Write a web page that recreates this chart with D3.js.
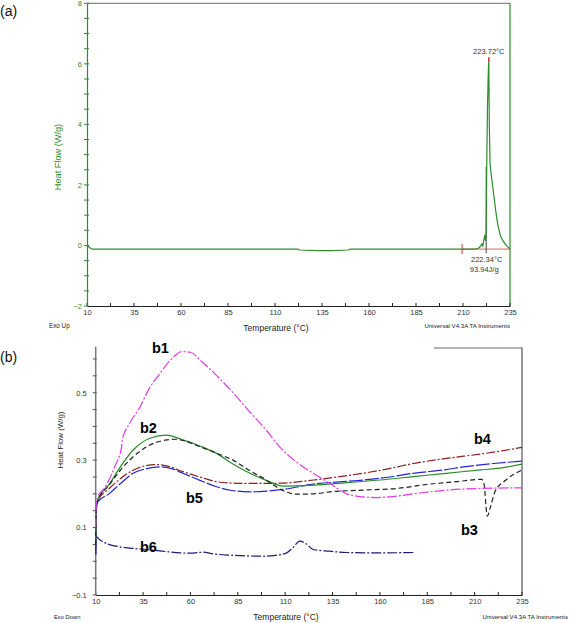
<!DOCTYPE html>
<html><head><meta charset="utf-8">
<script src="https://cdn.jsdelivr.net/npm/d3@7"></script>
<style>body{margin:0;background:#fff}svg{display:block;font-family:"Liberation Sans",Arial,sans-serif}</style>
</head><body>
<svg id="c" width="569" height="623"></svg>
<script>
// ---------- Panel (a) data ----------
const aTemp = [10, 11, 12, 13, 122, 123, 133, 140, 149, 150, 209, 216, 218, 219, 220, 220.5, 221, 221.6, 222.0, 222.34, 222.6, 223.0, 223.4, 223.72, 224.0, 224.4, 225.1, 226, 226.9, 227.8, 228.7, 230, 231.3, 233, 235];
const aFlow = [0, -0.05, -0.1, -0.12, -0.12, -0.15, -0.17, -0.17, -0.15, -0.12, -0.12, -0.12, -0.1, -0.05, 0.05, -0.02, 0.15, 0.35, 0.15, 0.5, 2.5, 4.5, 5.6, 6.15, 4.0, 2.7, 2.28, 1.85, 1.4, 0.96, 0.63, 0.3, 0.15, 0.0, -0.12];
const aXTicks = [10, 35, 60, 85, 110, 135, 160, 185, 210, 235];
const aYTicks = [-2, 0, 2, 4, 6, 8];
const aPeakTemp = 223.72, aPeakFlow = 6.15;
const aOnsetTemp = 222.34, aEnthalpy = "93.94J/g";
const aBaseStart = 209.5, aBaseEnd = 235, aBaseFlow = -0.12;

// ---------- Panel (b) data ----------
const bXTicks = [10, 35, 60, 85, 110, 135, 160, 185, 210, 235];
const bYTicks = [-0.1, 0.1, 0.3, 0.5];
const b1Temp = [10, 10.3, 11, 15, 20, 23.7, 24, 28, 33.4, 38, 43.9, 50, 55.4, 60, 65, 74, 82.5, 91, 100, 107, 117, 124.8, 133.6, 142.5, 151, 158, 165, 177.6, 195, 212.8, 235];
const b1Flow = [0.1, 0.17, 0.19, 0.22, 0.28, 0.34, 0.36, 0.41, 0.458, 0.51, 0.557, 0.6, 0.622, 0.62, 0.597, 0.55, 0.5, 0.445, 0.389, 0.34, 0.29, 0.261, 0.231, 0.2, 0.191, 0.189, 0.191, 0.2, 0.211, 0.216, 0.218];
const b2Temp = [10, 10.3, 11, 17.5, 23, 29.8, 38.6, 47.4, 56, 65, 73.8, 82, 91.4, 100, 109, 125, 140, 160, 177.6, 195, 213, 225, 235];
const b2Flow = [0.05, 0.15, 0.18, 0.231, 0.28, 0.33, 0.365, 0.374, 0.36, 0.342, 0.32, 0.29, 0.261, 0.24, 0.223, 0.226, 0.232, 0.241, 0.251, 0.261, 0.271, 0.278, 0.288];
const b3Temp = [10, 10.3, 11, 17, 23, 29.8, 38, 47.4, 52, 58, 65, 74, 82.5, 91, 100, 107, 116, 125, 133.6, 151, 168.8, 186.4, 200, 213.7, 214.9, 216.7, 218.4, 220.7, 226.5, 235];
const b3Flow = [0.05, 0.15, 0.18, 0.225, 0.27, 0.31, 0.343, 0.36, 0.362, 0.355, 0.34, 0.32, 0.30, 0.27, 0.241, 0.215, 0.199, 0.2, 0.206, 0.211, 0.216, 0.229, 0.236, 0.243, 0.231, 0.134, 0.162, 0.206, 0.241, 0.271];
const b4Temp = [10, 10.3, 11, 17, 23, 29.8, 36, 42, 48, 56, 65, 73.8, 82, 91.4, 100, 109, 125, 140, 151, 165, 177.6, 195, 213, 225, 235];
const b4Flow = [0.05, 0.15, 0.18, 0.215, 0.245, 0.27, 0.283, 0.287, 0.282, 0.266, 0.25, 0.236, 0.232, 0.231, 0.231, 0.232, 0.241, 0.252, 0.261, 0.275, 0.29, 0.305, 0.318, 0.328, 0.338];
const b5Temp = [10, 10.3, 11, 17, 23, 29.8, 37, 44, 50, 56, 65, 73.8, 82, 91.4, 100, 109, 125, 140, 151, 165, 177.6, 195, 204, 220, 235];
const b5Flow = [0.02, 0.15, 0.175, 0.2, 0.23, 0.261, 0.275, 0.28, 0.275, 0.261, 0.24, 0.221, 0.21, 0.206, 0.208, 0.213, 0.229, 0.236, 0.241, 0.25, 0.261, 0.272, 0.28, 0.29, 0.297];
const b6Temp = [10, 10.2, 12.3, 16, 22.8, 30, 36.9, 45, 54.5, 60, 66.8, 72, 80.9, 90, 98.4, 104, 110.8, 114, 117.8, 121, 124.8, 133, 142.4, 160, 177.6];
const b6Flow = [0.02, 0.073, 0.063, 0.052, 0.043, 0.038, 0.035, 0.03, 0.025, 0.024, 0.027, 0.022, 0.018, 0.016, 0.015, 0.017, 0.025, 0.04, 0.06, 0.052, 0.035, 0.03, 0.026, 0.025, 0.026];
const bNames = ["b1", "b2", "b3", "b4", "b5", "b6"];

const svg = d3.select("#c");
const FONT = '"Liberation Sans",Arial,sans-serif';

function minorTicks(scale, step) {
  const [a, b] = scale.domain().slice().sort((p, q) => p - q);
  const out = [];
  for (let v = a; v <= b + 1e-9; v += step) out.push(+v.toFixed(4));
  return out;
}

// ================= Panel (a) =================
const ax = d3.scaleLinear().domain([10, 235]).range([87, 510]);
const ay = d3.scaleLinear().domain([-2, 8]).range([306, 3.3]);
const ga = svg.append("g");
const green = "#2e8b2e";

// frame
ga.append("line").attr("x1", ax(10)).attr("x2", ax(235)).attr("y1", ay(8)).attr("y2", ay(8)).attr("stroke", "#888").attr("stroke-width", 1.2);
ga.append("line").attr("x1", ax(235)).attr("x2", ax(235)).attr("y1", ay(8)).attr("y2", ay(-2)).attr("stroke", green).attr("stroke-width", 1.2);

// x axis (ticks inside)
const axA = d3.axisBottom(ax).tickValues(aXTicks).tickSize(0).tickPadding(4).tickFormat(d3.format("d"));
const gax = ga.append("g").attr("transform", `translate(0,${ay(-2)})`).call(axA);
gax.select(".domain").attr("stroke", "#222");
gax.selectAll("text").attr("font-size", 7.5).attr("fill", "#333").attr("font-family", FONT);
ga.append("g").selectAll("line").data(minorTicks(ax, 12.5)).join("line")
  .attr("x1", d => ax(d)).attr("x2", d => ax(d)).attr("y1", ay(-2)).attr("y2", ay(-2) - 3).attr("stroke", "#222");

// y axis
const ayA = d3.axisLeft(ay).tickValues(aYTicks).tickSize(0).tickPadding(5).tickFormat(d3.format("d"));
const gay = ga.append("g").attr("transform", `translate(${ax(10)},0)`).call(ayA);
gay.select(".domain").attr("stroke", green).attr("stroke-width", 1.2);
gay.selectAll("text").attr("font-size", 7.5).attr("fill", green).attr("font-family", FONT);
ga.append("g").selectAll("line").data(minorTicks(ay, 0.5)).join("line")
  .attr("x1", ax(10) - 3).attr("x2", ax(10) + 2).attr("y1", d => ay(d)).attr("y2", d => ay(d)).attr("stroke", green);

// baseline (red) + markers
ga.append("line").attr("x1", ax(aBaseStart)).attr("x2", ax(aBaseEnd)).attr("y1", ay(aBaseFlow)).attr("y2", ay(aBaseFlow)).attr("stroke", "#e06060").attr("stroke-width", 1);
ga.append("line").attr("x1", ax(aBaseStart)).attr("x2", ax(aBaseStart)).attr("y1", ay(aBaseFlow) - 5).attr("y2", ay(aBaseFlow) + 5).attr("stroke", "#e03030").attr("stroke-width", 1);
// onset line
ga.append("line").attr("x1", ax(aOnsetTemp)).attr("x2", ax(aOnsetTemp)).attr("y1", ay(aBaseFlow) + 4).attr("y2", ay(2.6)).attr("stroke", "#444").attr("stroke-width", 1);

// curve
const lineA = d3.line().x((d, i) => ax(aTemp[i])).y(d => ay(d));
ga.append("path").attr("d", lineA(aFlow)).attr("fill", "none").attr("stroke", green).attr("stroke-width", 1.2);
// peak marker
ga.append("line").attr("x1", ax(aPeakTemp)).attr("x2", ax(aPeakTemp)).attr("y1", ay(aPeakFlow) - 2).attr("y2", ay(aPeakFlow) + 2).attr("stroke", "#e03030").attr("stroke-width", 1.5);

ga.append("text").attr("x", ax(aPeakTemp)).attr("y", ay(aPeakFlow) - 5).attr("text-anchor", "middle").attr("font-size", 7.5).attr("fill", "#333").text(aPeakTemp.toFixed(2) + "°C");
ga.append("text").attr("x", ax(aOnsetTemp) + 0.5).attr("y", 262).attr("text-anchor", "middle").attr("font-size", 7.5).attr("fill", "#333").text(aOnsetTemp.toFixed(2) + "°C");
ga.append("text").attr("x", ax(aOnsetTemp) - 2).attr("y", 272).attr("text-anchor", "middle").attr("font-size", 7.5).attr("fill", "#333").text(aEnthalpy);

// titles (a)
ga.append("text").attr("transform", "translate(61,157) rotate(-90)").attr("text-anchor", "middle").attr("font-size", 9.2).attr("fill", green).text("Heat Flow (W/g)");
ga.append("text").attr("x", 276).attr("y", 331).attr("text-anchor", "middle").attr("font-size", 8.5).attr("fill", "#222").text("Temperature (°C)");
ga.append("text").attr("x", 49).attr("y", 328).attr("font-size", 6.3).attr("fill", "#222").text("Exo Up");
ga.append("text").attr("x", 510).attr("y", 328).attr("text-anchor", "end").attr("font-size", 6.1).attr("fill", "#222").text("Universal V4.3A TA Instruments");
ga.append("text").attr("x", 0).attr("y", 16).attr("font-size", 14).attr("fill", "#111").text("(a)");

// ================= Panel (b) =================
const bx = d3.scaleLinear().domain([10, 235]).range([95.7, 522]);
const by = d3.scaleLinear().domain([-0.1, 0.5]).range([595, 392.7]);
const gb = svg.append("g");

// frame pieces
gb.append("line").attr("x1", bx(235)).attr("x2", bx(235)).attr("y1", 347.5).attr("y2", by(-0.1)).attr("stroke", "#555").attr("stroke-width", 1.2);
gb.append("line").attr("x1", 434).attr("x2", bx(235)).attr("y1", 348).attr("y2", 348).attr("stroke", "#666").attr("stroke-width", 1.2);

const axB = d3.axisBottom(bx).tickValues(bXTicks).tickSize(0).tickPadding(4).tickFormat(d3.format("d"));
const gbx = gb.append("g").attr("transform", `translate(0,${by(-0.1)})`).call(axB);
gbx.select(".domain").attr("stroke", "#222");
gbx.selectAll("text").attr("font-size", 7.5).attr("fill", "#333").attr("font-family", FONT);
gb.append("g").selectAll("line").data(minorTicks(bx, 12.5)).join("line")
  .attr("x1", d => bx(d)).attr("x2", d => bx(d)).attr("y1", by(-0.1)).attr("y2", by(-0.1) - 3).attr("stroke", "#222");

const ayB = d3.axisLeft(by).tickValues(bYTicks).tickSize(0).tickPadding(9).tickFormat(d3.format(".1f"));
const gby = gb.append("g").attr("transform", `translate(${bx(10)},0)`).call(ayB);
gby.select(".domain").remove();
gb.append("line").attr("x1", bx(10)).attr("x2", bx(10)).attr("y1", 346.7).attr("y2", by(-0.1)).attr("stroke", "#777").attr("stroke-width", 1.5);
gby.selectAll("text").attr("font-size", 7.5).attr("fill", "#333").attr("font-family", FONT);
const byMinor = []; for (let v = -0.1; v <= 0.64; v += 0.05) byMinor.push(v);
gb.append("g").selectAll("line").data(byMinor).join("line")
  .attr("x1", bx(10) - 3).attr("x2", bx(10) + 1).attr("y1", d => by(d)).attr("y2", d => by(d)).attr("stroke", "#555");

const series = [
  {t: b6Temp, v: b6Flow, color: "#1c1c7a", dash: "10,2,2,2"},
  {t: b4Temp, v: b4Flow, color: "#8b1f1f", dash: "9,2,2,2"},
  {t: b5Temp, v: b5Flow, color: "#2626d6", dash: "14,2"},
  {t: b2Temp, v: b2Flow, color: "#2a8a2a", dash: null},
  {t: b3Temp, v: b3Flow, color: "#222222", dash: "5,3"},
  {t: b1Temp, v: b1Flow, color: "#e03ce0", dash: "10,2,2,2"}
];
series.forEach(s => {
  const ln = d3.line().x((d, i) => bx(s.t[i])).y(d => by(d)).curve(d3.curveMonotoneX);
  gb.append("path").attr("d", ln(s.v)).attr("fill", "none").attr("stroke", s.color)
    .attr("stroke-width", 1.2).attr("stroke-dasharray", s.dash);
});

const labelPos = {b1: [152, 353], b2: [140, 433], b3: [461, 535], b4: [474, 444], b5: [186, 503], b6: [140, 552]};
bNames.forEach(n => {
  gb.append("text").attr("x", labelPos[n][0]).attr("y", labelPos[n][1]).attr("font-size", 14.5).attr("font-weight", "bold").attr("fill", "#000").text(n);
});

gb.append("text").attr("transform", "translate(63,440) rotate(-90)").attr("text-anchor", "middle").attr("font-size", 7.9).attr("fill", "#222").text("Heat Flow (W/g)");
gb.append("text").attr("x", 286).attr("y", 620).attr("text-anchor", "middle").attr("font-size", 8.5).attr("fill", "#222").text("Temperature (°C)");
gb.append("text").attr("x", 54).attr("y", 619).attr("font-size", 5.8).attr("fill", "#222").text("Exo Down");
gb.append("text").attr("x", 568).attr("y", 619).attr("text-anchor", "end").attr("font-size", 6.1).attr("fill", "#222").text("Universal V4.3A TA Instruments");
gb.append("text").attr("x", 0).attr("y", 362).attr("font-size", 14).attr("fill", "#111").text("(b)");
</script>
</body></html>
